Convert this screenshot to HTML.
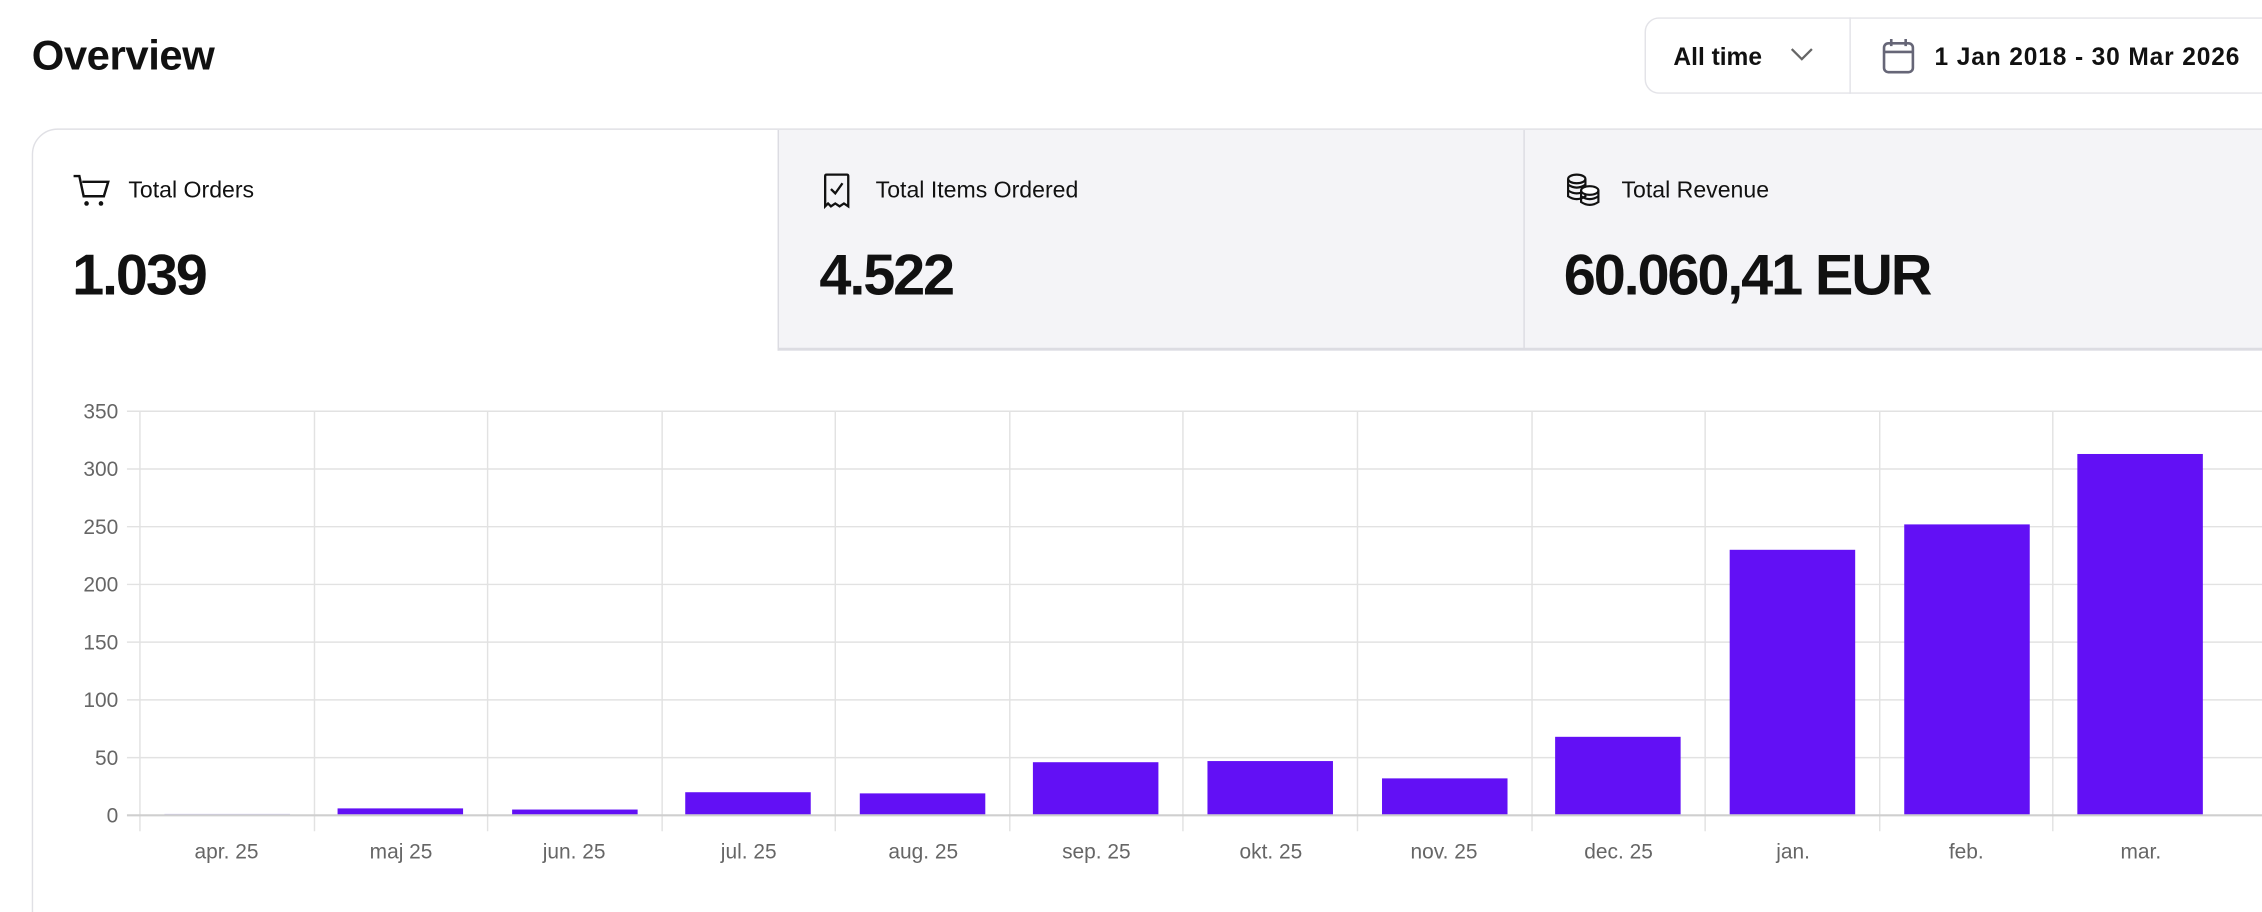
<!DOCTYPE html>
<html><head><meta charset="utf-8"><style>
html,body{margin:0;padding:0;background:#fff;overflow:hidden;width:2262px;height:912px}
#w{width:1568px;height:632px;position:relative;overflow:hidden;transform:scale(1.44260,1.44304);transform-origin:0 0;font-family:"Liberation Sans",sans-serif;color:#111}
.a{position:absolute}
</style></head><body><div id="w">
<div class="a" style="left:22px;top:23px;font-size:29px;font-weight:bold;letter-spacing:-0.3px">Overview</div>
<div class="a" style="left:1140px;top:12px;width:440px;height:53px;border:1px solid #e3e3e8;border-radius:10px;box-sizing:border-box"></div>
<div class="a" style="left:1282px;top:12px;width:1px;height:53px;background:#e3e3e8"></div>
<div class="a" style="left:1160px;top:30px;font-size:17px;font-weight:bold">All time</div>
<svg class="a" style="left:1240px;top:32px" width="18" height="12"><path d="M2 2 L9 9 L16 2" fill="none" stroke="#666" stroke-width="1.6"/></svg>
<svg class="a" style="left:1303px;top:25px" width="26" height="28"><rect x="3" y="5" width="20" height="20" rx="3" fill="none" stroke="#667" stroke-width="1.8"/><line x1="3" y1="11" x2="23" y2="11" stroke="#667" stroke-width="1.8"/><line x1="8" y1="2" x2="8" y2="7" stroke="#667" stroke-width="1.8"/><line x1="18" y1="2" x2="18" y2="7" stroke="#667" stroke-width="1.8"/></svg>
<div class="a" style="left:1341px;top:30px;font-size:17px;font-weight:bold;letter-spacing:0.6px">1 Jan 2018 - 30 Mar 2026</div>
<div class="a" style="left:22px;top:89px;width:1580px;height:600px;border:1px solid #e0e0e5;border-radius:18px;box-sizing:border-box;overflow:hidden">
 <div class="a" style="left:516px;top:0;width:1100px;height:153px;background:#f4f4f7;border-left:1px solid #dcdce2;border-bottom:2px solid #dcdce2;box-sizing:border-box"></div>
 <div class="a" style="left:1033px;top:0;width:1px;height:152px;background:#dcdce2"></div>
</div>
<svg class="a" style="left:50px;top:119px" width="28" height="26"><path d="M1 3 H5 L8 17 H22 L25 7 H7" fill="none" stroke="#111" stroke-width="1.7"/><circle cx="10" cy="22" r="1.6" fill="#111"/><circle cx="20" cy="22" r="1.6" fill="#111"/></svg>
<div class="a" style="left:89px;top:124px;font-size:16px">Total Orders</div>
<div class="a" style="left:50px;top:169px;font-size:40px;font-weight:bold;letter-spacing:-1.5px">1.039</div>
<svg class="a" style="left:569px;top:119px" width="24" height="26"><path d="M3 24 V3 Q3 2 4 2 H18 Q19 2 19 3 V24 L16 22 L13 24 L10 22 L7 24 L5 22 Z" fill="none" stroke="#111" stroke-width="1.6"/><path d="M7 12 L10 15 L15 8" fill="none" stroke="#111" stroke-width="1.6"/></svg>
<div class="a" style="left:607px;top:124px;font-size:16px">Total Items Ordered</div>
<div class="a" style="left:568px;top:169px;font-size:40px;font-weight:bold;letter-spacing:-1.5px">4.522</div>
<svg class="a" style="left:1084px;top:119px" width="28" height="26"><g fill="none" stroke="#111" stroke-width="1.5"><ellipse cx="9" cy="5" rx="6" ry="3"/><path d="M3 5 V17 Q9 21 15 17 V5"/><path d="M3 9 Q9 13 15 9 M3 13 Q9 17 15 13"/><ellipse cx="18" cy="13" rx="6" ry="3" fill="#fff"/><path d="M12 13 V21 Q18 25 24 21 V13 M12 17 Q18 21 24 17"/></g></svg>
<div class="a" style="left:1124px;top:124px;font-size:16px">Total Revenue</div>
<div class="a" style="left:1084px;top:169px;font-size:40px;font-weight:bold;letter-spacing:-1.5px">60.060,41 EUR</div>
<svg class="a" style="left:0;top:0" width="1568" height="632" font-family="Liberation Sans,sans-serif">
<g stroke="#e2e2e2" stroke-width="1">
<line x1="88" y1="285" x2="1568" y2="285"/><line x1="88" y1="325" x2="1568" y2="325"/><line x1="88" y1="365" x2="1568" y2="365"/><line x1="88" y1="405" x2="1568" y2="405"/><line x1="88" y1="445" x2="1568" y2="445"/><line x1="88" y1="485" x2="1568" y2="485"/><line x1="88" y1="525" x2="1568" y2="525"/>
<line x1="97" y1="285" x2="97" y2="576"/><line x1="218" y1="285" x2="218" y2="576"/><line x1="338" y1="285" x2="338" y2="576"/><line x1="459" y1="285" x2="459" y2="576"/><line x1="579" y1="285" x2="579" y2="576"/><line x1="700" y1="285" x2="700" y2="576"/><line x1="820" y1="285" x2="820" y2="576"/><line x1="941" y1="285" x2="941" y2="576"/><line x1="1062" y1="285" x2="1062" y2="576"/><line x1="1182" y1="285" x2="1182" y2="576"/><line x1="1303" y1="285" x2="1303" y2="576"/><line x1="1423" y1="285" x2="1423" y2="576"/>
</g>
<g fill="#6210f5">
<rect x="114" y="564" width="87" height="1" fill="#c8c0f0"/>
<rect x="234" y="560.2" width="87" height="4.8"/><rect x="355" y="561" width="87" height="4"/><rect x="475" y="549" width="87" height="16"/><rect x="596" y="549.8" width="87" height="15.2"/><rect x="716" y="528.2" width="87" height="36.8"/><rect x="837" y="527.4" width="87" height="37.6"/><rect x="958" y="539.4" width="87" height="25.6"/><rect x="1078" y="510.6" width="87" height="54.4"/><rect x="1199" y="381" width="87" height="184"/><rect x="1320" y="363.4" width="87" height="201.6"/><rect x="1440" y="314.6" width="87" height="250.4"/>
</g>
<line x1="88" y1="565" x2="1568" y2="565" stroke="#cfcfcf" stroke-width="1.5"/>
<g font-size="14.5" fill="#666" text-anchor="end">
<text x="82" y="290">350</text><text x="82" y="330">300</text><text x="82" y="370">250</text><text x="82" y="410">200</text><text x="82" y="450">150</text><text x="82" y="490">100</text><text x="82" y="530">50</text><text x="82" y="570">0</text>
</g>
<g font-size="14.5" fill="#666" text-anchor="middle">
<text x="157" y="595">apr. 25</text><text x="278" y="595">maj 25</text><text x="398" y="595">jun. 25</text><text x="519" y="595">jul. 25</text><text x="640" y="595">aug. 25</text><text x="760" y="595">sep. 25</text><text x="881" y="595">okt. 25</text><text x="1001" y="595">nov. 25</text><text x="1122" y="595">dec. 25</text><text x="1243" y="595">jan.</text><text x="1363" y="595">feb.</text><text x="1484" y="595">mar.</text>
</g>
</svg>
</div></body></html>
